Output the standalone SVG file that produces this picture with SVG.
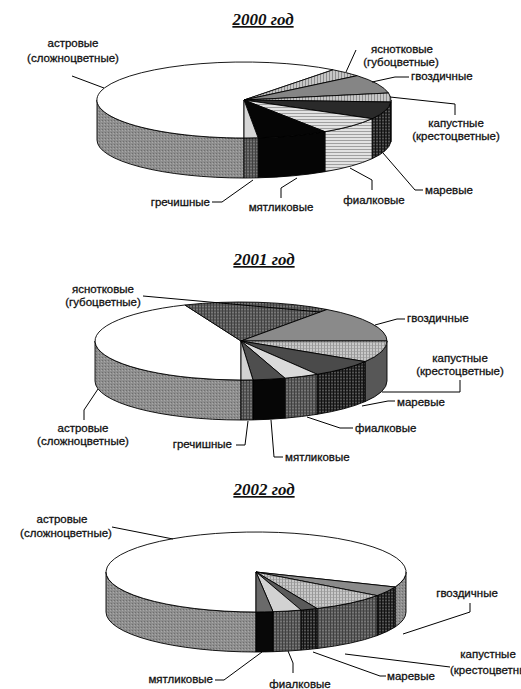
<svg xmlns="http://www.w3.org/2000/svg" width="521" height="689" viewBox="0 0 521 689">
<defs>
<style>
.t{font-family:"Liberation Sans",Arial,sans-serif;font-size:11.5px;fill:#111;stroke:#111;stroke-width:0.3}
.m{text-anchor:middle}.e{text-anchor:end}
.ttl{font-family:"Liberation Serif","Times New Roman",serif;font-weight:bold;font-style:italic;font-size:17px;text-anchor:middle;text-decoration:underline;fill:#111}
.s{stroke:#000;stroke-width:0.9;stroke-linejoin:round}
.ld{fill:none;stroke:#000;stroke-width:1}
</style>
<pattern id="hs" width="4" height="3" patternUnits="userSpaceOnUse"><rect width="4" height="3" fill="#e2e2e2"/><rect y="2" width="4" height="1" fill="#a0a0a0"/></pattern>
<pattern id="vs" width="3" height="4" patternUnits="userSpaceOnUse"><rect width="3" height="4" fill="#c6c6c6"/><rect x="2" width="1" height="4" fill="#8e8e8e"/></pattern>
<pattern id="gr" width="3" height="3" patternUnits="userSpaceOnUse"><rect width="3" height="3" fill="#8e8e8e"/><rect width="1" height="1" fill="#6e6e6e"/><rect x="2" y="1" width="1" height="1" fill="#a8a8a8"/></pattern>
<pattern id="dk" width="3" height="3" patternUnits="userSpaceOnUse"><rect width="3" height="3" fill="#2e2e2e"/><rect width="3" height="1" fill="#555"/><rect width="1" height="3" fill="#111"/></pattern>
<pattern id="md" width="3" height="3" patternUnits="userSpaceOnUse"><rect width="3" height="3" fill="#5c5c5c"/><rect width="3" height="1" fill="#777"/><rect width="1" height="3" fill="#404040"/></pattern>
<pattern id="lc" width="3" height="3" patternUnits="userSpaceOnUse"><rect width="3" height="3" fill="#c8c8c8"/><rect width="3" height="1" fill="#aaa"/><rect width="1" height="3" fill="#999"/></pattern>
</defs>
<rect width="521" height="689" fill="#fff"/>

<!-- ===== 2000 ===== -->
<g id="chart-2000">
<text class="ttl" x="263" y="25">2000 год</text>
<g id="y2000-astrovye"><path class="s" fill="url(#gr)" d="M244 138A147 38 0 0 1 97 100L97 140A147 38 0 0 0 244 178Z"/><path class="s" fill="#fff" d="M244 100L244 138A147 38 0 1 1 333.1 69.8Z"/></g>
<g id="y2000-yasnotkovye"><path class="s" fill="url(#vs)" d="M244 100L333.1 69.8A147 38 0 0 1 357.1 75.7Z"/></g>
<g id="y2000-gvozdichnye"><path class="s" fill="#858585" d="M244 100L357.1 75.7A147 38 0 0 1 388.5 93Z"/></g>
<g id="y2000-kapustnye"><path class="s" fill="url(#dk)" d="M391 100A147 38 0 0 1 390.8 102L390.8 142A147 38 0 0 0 391 140Z"/><path class="s" fill="url(#vs)" d="M244 100L388.5 93A147 38 0 0 1 390.8 102Z"/></g>
<g id="y2000-marevye"><path class="s" fill="url(#dk)" d="M390.8 102A147 38 0 0 1 372.1 118.7L372.1 158.7A147 38 0 0 0 390.8 142Z"/><path class="s" fill="#2a2a2a" d="M244 100L390.8 102A147 38 0 0 1 372.1 118.7Z"/></g>
<g id="y2000-fialkovye"><path class="s" fill="url(#hs)" d="M372.1 118.7A147 38 0 0 1 324.9 131.7L324.9 171.7A147 38 0 0 0 372.1 158.7Z"/><path class="s" fill="url(#hs)" d="M244 100L372.1 118.7A147 38 0 0 1 324.9 131.7Z"/></g>
<g id="y2000-myatlikovye"><path class="s" fill="#050505" d="M324.9 131.7A147 38 0 0 1 258.1 137.8L258.1 177.8A147 38 0 0 0 324.9 171.7Z"/><path class="s" fill="#050505" d="M244 100L324.9 131.7A147 38 0 0 1 258.1 137.8Z"/></g>
<g id="y2000-grechishnye"><path class="s" fill="url(#md)" d="M258.1 137.8A147 38 0 0 1 244 138L244 178A147 38 0 0 0 258.1 177.8Z"/><path class="s" fill="#d6d6d6" d="M244 100L258.1 137.8A147 38 0 0 1 244 138Z"/></g>
<g id="l2000-astrovye"><text class="t m" x="73" y="47">астровые</text><text class="t m" x="73" y="62">(сложноцветные)</text></g>
<g id="l2000-yasnotkovye"><text class="t m" x="402" y="53">яснотковые</text><text class="t m" x="401" y="66">(губоцветные)</text></g>
<g id="l2000-gvozdichnye"><text class="t" x="411" y="80">гвоздичные</text></g>
<g id="l2000-kapustnye"><text class="t m" x="456" y="127">капустные</text><text class="t m" x="456" y="140">(крестоцветные)</text></g>
<g id="l2000-marevye"><text class="t" x="425" y="194">маревые</text></g>
<g id="l2000-fialkovye"><text class="t m" x="374" y="204">фиалковые</text></g>
<g id="l2000-myatlikovye"><text class="t m" x="281" y="211">мятликовые</text></g>
<g id="l2000-grechishnye"><text class="t e" x="210" y="206">гречишные</text></g>
</g>

<!-- ===== 2001 ===== -->
<g id="chart-2001">
<text class="ttl" x="264" y="265">2001 год</text>
<g id="y2001-astrovye"><path class="s" fill="url(#gr)" d="M241 380A146 39 0 0 1 95 341L95 381A146 39 0 0 0 241 420Z"/><path class="s" fill="#fff" d="M241 341L241 380A146 39 0 0 1 184.9 305Z"/></g>
<g id="y2001-yasnotkovye"><path class="s" fill="url(#md)" d="M241 341L184.9 305A146 39 0 0 1 327 309.5Z"/></g>
<g id="y2001-gvozdichnye"><path class="s" fill="#8a8a8a" d="M241 341L327 309.5A146 39 0 0 1 387 341Z"/></g>
<g id="y2001-kapustnye"><path class="s" fill="#575757" d="M387 341A146 39 0 0 1 365 361.6L365 401.6A146 39 0 0 0 387 381Z"/><path class="s" fill="url(#lc)" d="M241 341L387 341A146 39 0 0 1 365 361.6Z"/></g>
<g id="y2001-marevye"><path class="s" fill="url(#dk)" d="M365 361.6A146 39 0 0 1 317.1 374.3L317.1 414.3A146 39 0 0 0 365 401.6Z"/><path class="s" fill="#4a4a4a" d="M241 341L365 361.6A146 39 0 0 1 317.1 374.3Z"/></g>
<g id="y2001-fialkovye"><path class="s" fill="url(#md)" d="M317.1 374.3A146 39 0 0 1 284.9 378.2L284.9 418.2A146 39 0 0 0 317.1 414.3Z"/><path class="s" fill="#dadada" d="M241 341L317.1 374.3A146 39 0 0 1 284.9 378.2Z"/></g>
<g id="y2001-myatlikovye"><path class="s" fill="#060606" d="M284.9 378.2A146 39 0 0 1 253 379.9L253 419.9A146 39 0 0 0 284.9 418.2Z"/><path class="s" fill="#4e4e4e" d="M241 341L284.9 378.2A146 39 0 0 1 253 379.9Z"/></g>
<g id="y2001-grechishnye"><path class="s" fill="url(#md)" d="M253 379.9A146 39 0 0 1 241 380L241 420A146 39 0 0 0 253 419.9Z"/><path class="s" fill="#d2d2d2" d="M241 341L253 379.9A146 39 0 0 1 241 380Z"/></g>
<g id="l2001-yasnotkovye"><text class="t m" x="103" y="293">яснотковые</text><text class="t m" x="103" y="306">(губоцветные)</text></g>
<g id="l2001-gvozdichnye"><text class="t" x="407" y="322">гвоздичные</text></g>
<g id="l2001-kapustnye"><text class="t m" x="460" y="362">капустные</text><text class="t m" x="460" y="375">(крестоцветные)</text></g>
<g id="l2001-marevye"><text class="t" x="397" y="406">маревые</text></g>
<g id="l2001-fialkovye"><text class="t" x="355" y="432">фиалковые</text></g>
<g id="l2001-myatlikovye"><text class="t" x="285" y="461">мятликовые</text></g>
<g id="l2001-grechishnye"><text class="t e" x="232" y="448">гречишные</text></g>
<g id="l2001-astrovye"><text class="t m" x="83" y="432">астровые</text><text class="t m" x="83" y="445">(сложноцветные)</text></g>
</g>

<!-- ===== 2002 ===== -->
<g id="chart-2002">
<text class="ttl" x="264" y="495">2002 год</text>
<g id="y2002-astrovye"><path class="s" fill="url(#gr)" d="M406 572A150 40 0 0 1 395.1 587L395.1 627A150 40 0 0 0 406 612Z"/><path class="s" fill="url(#gr)" d="M256 612A150 40 0 0 1 106 572L106 612A150 40 0 0 0 256 652Z"/><path class="s" fill="#fff" d="M256 572L256 612A150 40 0 1 1 395.1 587Z"/></g>
<g id="y2002-gvozdichnye"><path class="s" fill="url(#dk)" d="M395.1 587A150 40 0 0 1 377.1 595.6L377.1 635.6A150 40 0 0 0 395.1 627Z"/><path class="s" fill="#8a8a8a" d="M256 572L395.1 587A150 40 0 0 1 377.1 595.6Z"/></g>
<g id="y2002-kapustnye"><path class="s" fill="url(#md)" d="M377.1 595.6A150 40 0 0 1 317 608.5L317 648.5A150 40 0 0 0 377.1 635.6Z"/><path class="s" fill="url(#lc)" d="M256 572L377.1 595.6A150 40 0 0 1 317 608.5Z"/></g>
<g id="y2002-marevye"><path class="s" fill="url(#dk)" d="M317 608.5A150 40 0 0 1 301.1 610.1L301.1 650.1A150 40 0 0 0 317 648.5Z"/><path class="s" fill="#5a5a5a" d="M256 572L317 608.5A150 40 0 0 1 301.1 610.1Z"/></g>
<g id="y2002-fialkovye"><path class="s" fill="url(#md)" d="M301.1 610.1A150 40 0 0 1 273 611.7L273 651.7A150 40 0 0 0 301.1 650.1Z"/><path class="s" fill="#d2d2d2" d="M256 572L301.1 610.1A150 40 0 0 1 273 611.7Z"/></g>
<g id="y2002-myatlikovye"><path class="s" fill="#080808" d="M273 611.7A150 40 0 0 1 256 612L256 652A150 40 0 0 0 273 651.7Z"/><path class="s" fill="#6a6a6a" d="M256 572L273 611.7A150 40 0 0 1 256 612Z"/></g>
<g id="l2002-astrovye"><text class="t m" x="62" y="523">астровые</text><text class="t m" x="66" y="537">(сложноцветные)</text></g>
<g id="l2002-gvozdichnye"><text class="t m" x="467" y="597">гвоздичные</text></g>
<g id="l2002-kapustnye"><text class="t m" x="488" y="658">капустные</text><text class="t" x="450" y="674">(крестоцветные)</text></g>
<g id="l2002-marevye"><text class="t" x="387" y="680">маревые</text></g>
<g id="l2002-fialkovye"><text class="t m" x="300" y="688">фиалковые</text></g>
<g id="l2002-myatlikovye"><text class="t e" x="213" y="683">мятликовые</text></g>
</g>

<g id="connectors">
<polyline class="ld" points="72,76 104,88"/>
<polyline class="ld" points="356,50 346,72"/>
<polyline class="ld" points="372,82 395,77 409,77"/>
<polyline class="ld" points="390,97 455,104 455,115"/>
<polyline class="ld" points="383,153 415,190 423,190"/>
<polyline class="ld" points="350,168 372,180 372,190"/>
<polyline class="ld" points="297,178 281,188 281,198"/>
<polyline class="ld" points="253,180 222,202 212,202"/>

<polyline class="ld" points="143,296 320,312"/>
<polyline class="ld" points="375,325 397,319 405,319"/>
<polyline class="ld" points="460,380 460,392 382,392"/>
<polyline class="ld" points="362,406 388,401 395,401"/>
<polyline class="ld" points="307,417 340,428 353,428"/>
<polyline class="ld" points="271,420 274,457 283,457"/>
<polyline class="ld" points="248,421 245,445 236,445"/>
<polyline class="ld" points="98,389 84,410 84,420"/>

<polyline class="ld" points="112,527 173,539"/>
<polyline class="ld" points="470,603 470,612 403,634"/>
<polyline class="ld" points="345,654 450,667"/>
<polyline class="ld" points="313,652 380,676 386,676"/>
<polyline class="ld" points="288,651 293,663 293,673"/>
<polyline class="ld" points="262,652 224,680 215,680"/>
</g>
</svg>
